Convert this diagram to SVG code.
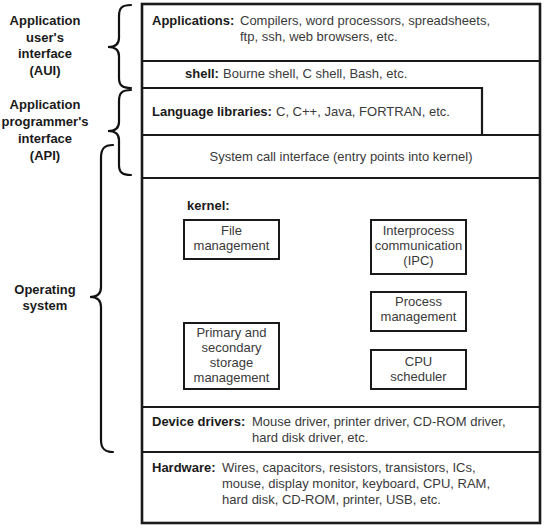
<svg xmlns="http://www.w3.org/2000/svg" width="546" height="529" viewBox="0 0 546 529">
<style>
  .ln { fill: none; stroke: #1a1a1a; stroke-width: 2.2; }
  .ob { fill: #ffffff; stroke: #1a1a1a; stroke-width: 2.6; }
  .bx { fill: #ffffff; stroke: #1a1a1a; stroke-width: 2; }
  .br { fill: none; stroke: #111111; stroke-width: 2.2; stroke-linecap: round; }
  text { font-family: "Liberation Sans", Arial, Helvetica, sans-serif; font-size: 13px; }
  .b { font-weight: bold; fill: #1a1a1a; }
  .r { fill: #3a3a3a; }
  .c { text-anchor: middle; }
</style>
<rect width="546" height="529" fill="#ffffff"/>

<g id="layers">
  <rect class="ob" x="142" y="4" width="398" height="519"/>
  <line class="ln" x1="142" y1="61" x2="540" y2="61"/>
  <path class="ln" d="M142,88 H482 V135"/>
  <line class="ln" x1="142" y1="135" x2="540" y2="135"/>
  <line class="ln" x1="142" y1="178" x2="540" y2="178"/>
  <line class="ln" x1="142" y1="407" x2="540" y2="407"/>
  <line class="ln" x1="142" y1="452" x2="540" y2="452"/>
</g>

<g id="applications">
  <text class="b" x="152" y="24.5">Applications:</text>
  <text class="r" x="240" y="24.5">Compilers, word processors, spreadsheets,</text>
  <text class="r" x="240" y="40.5">ftp, ssh, web browsers, etc.</text>
</g>
<g id="shell">
  <text class="b" x="185" y="78">shell:</text>
  <text class="r" x="223" y="78">Bourne shell, C shell, Bash, etc.</text>
</g>
<g id="language-libraries">
  <text class="b" x="152" y="116">Language libraries:</text>
  <text class="r" x="276" y="116">C, C++, Java, FORTRAN, etc.</text>
</g>
<g id="system-call">
  <text class="r c" x="341" y="161">System call interface (entry points into kernel)</text>
</g>
<g id="kernel">
  <text class="b" x="187" y="209.5">kernel:</text>
</g>
<g id="file-management">
  <rect class="bx" x="184" y="220" width="95" height="39"/>
  <text class="r c" x="231.5" y="235">File</text>
  <text class="r c" x="231.5" y="250">management</text>
</g>
<g id="ipc">
  <rect class="bx" x="371" y="220" width="95" height="54"/>
  <text class="r c" x="418.5" y="235">Interprocess</text>
  <text class="r c" x="418.5" y="250">communication</text>
  <text class="r c" x="418.5" y="265">(IPC)</text>
</g>
<g id="process-management">
  <rect class="bx" x="371" y="292" width="95" height="39"/>
  <text class="r c" x="418.5" y="306">Process</text>
  <text class="r c" x="418.5" y="321">management</text>
</g>
<g id="storage-management">
  <rect class="bx" x="184" y="323" width="95" height="66"/>
  <text class="r c" x="231.5" y="337">Primary and</text>
  <text class="r c" x="231.5" y="352">secondary</text>
  <text class="r c" x="231.5" y="367">storage</text>
  <text class="r c" x="231.5" y="382">management</text>
</g>
<g id="cpu-scheduler">
  <rect class="bx" x="371" y="350" width="95" height="39"/>
  <text class="r c" x="418.5" y="366">CPU</text>
  <text class="r c" x="418.5" y="381">scheduler</text>
</g>
<g id="device-drivers">
  <text class="b" x="152" y="425.5">Device drivers:</text>
  <text class="r" x="252" y="425.5">Mouse driver, printer driver, CD-ROM driver,</text>
  <text class="r" x="252" y="441.5">hard disk driver, etc.</text>
</g>
<g id="hardware">
  <text class="b" x="152" y="471.5">Hardware:</text>
  <text class="r" x="222" y="471.5">Wires, capacitors, resistors, transistors, ICs,</text>
  <text class="r" x="222" y="487.5">mouse, display monitor, keyboard, CPU, RAM,</text>
  <text class="r" x="222" y="503.5">hard disk, CD-ROM, printer, USB, etc.</text>
</g>

<g id="aui-label">
  <text class="b c" x="45" y="25">Application</text>
  <text class="b c" x="45" y="42">user's</text>
  <text class="b c" x="45" y="58">interface</text>
  <text class="b c" x="45" y="75">(AUI)</text>
</g>
<g id="api-label">
  <text class="b c" x="45" y="109">Application</text>
  <text class="b c" x="45" y="126">programmer's</text>
  <text class="b c" x="45" y="143">interface</text>
  <text class="b c" x="45" y="160">(API)</text>
</g>
<g id="os-label">
  <text class="b c" x="45" y="294">Operating</text>
  <text class="b c" x="45" y="310">system</text>
</g>

<g id="connectors">
  <path class="br" d="M131,5 C122,5 119,8 119,16 V38 C119,44 115,47 108,47 C115,47 119,50 119,56 V78 C119,85 122,88 131,88"/>
  <path class="br" d="M131,90 C122,90 119,93 119,101 V122 C119,128 115,131 108,131 C115,131 119,134 119,140 V165 C119,172 122,175 131,175"/>
  <path class="br" d="M113,145 C104,145 101,149 101,158 V287 C101,294 97,297 90,297 C97,297 101,300 101,307 V440 C101,448 104,452 113,452"/>
</g>
</svg>
